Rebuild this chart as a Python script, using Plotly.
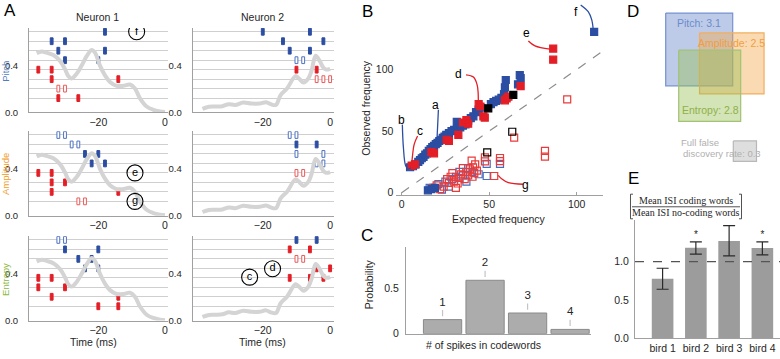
import plotly.graph_objects as go

W, H = 780, 359
FONT = "Liberation Sans"
TXT = "#262626"
AX = "#a0a0a0"
BLUE = "#2b4ea2"
RED = "#e41e26"

def fx(p):
    return p / W

def fy(p):
    return 1 - p / H

# ---------------- Panel A data ----------------
curve1_t = [-38.5, -37, -35.5, -33.5, -31.5, -30, -29, -28, -26.5, -25, -23.5, -22, -21, -19.5,
            -18, -16.5, -14.5, -12.5, -10.5, -9, -7.5, -5.5, -3.5, -1.5, 0]
curve1_y = [0.506, 0.52, 0.51, 0.49, 0.44, 0.37, 0.31, 0.29, 0.33, 0.40, 0.48, 0.534, 0.51, 0.40,
            0.316, 0.26, 0.227, 0.227, 0.238, 0.204, 0.12, 0.05, 0.022, 0.008, 0.003]
curve2_t = [-37.9, -36, -34, -32, -30.1, -28.2, -25.8, -23.4, -21, -19, -17.6, -16.1, -14.7, -12.8,
            -10.3, -9.4, -7.9, -6.5, -5.5, -4.3, -3.1, -2.1, -1.2, 0]
curve2_y = [0.031, 0.048, 0.05, 0.053, 0.07, 0.064, 0.084, 0.075, 0.075, 0.087, 0.07, 0.064, 0.148, 0.204,
            0.31, 0.294, 0.255, 0.288, 0.358, 0.484, 0.44, 0.386, 0.366, 0.372]

# raster rows (row 1 = bottom ... row 8 = top)
row_y = [0.122, 0.203, 0.284, 0.365, 0.446, 0.527, 0.608, 0.689]

# spike words: (time ms, row, kind)  kind: bf/bo = blue filled/open, rf/ro = red filled/open
n1_pitch = [(-18, 8, 'bf'), (-34, 7, 'bf'), (-30, 7, 'bf'), (-32, 6, 'bf'), (-18, 6, 'bf'), (-30, 5, 'bf'),
            (-20, 5, 'bf'), (-38, 4, 'rf'), (-34, 4, 'rf'), (-34, 3, 'rf'), (-14, 3, 'rf'), (-32, 2, 'ro'),
            (-30, 2, 'ro'), (-32, 1, 'rf'), (-26, 1, 'rf')]
n2_pitch = [(-20, 8, 'bf'), (-6, 8, 'bf'), (-14, 7, 'bf'), (-2, 7, 'bf'), (-12, 6, 'bf'), (-6, 6, 'bf'),
            (-10, 5, 'bo'), (-8, 5, 'bo'), (-10, 4, 'rf'), (-4, 4, 'rf'), (-4, 3, 'ro'), (-2, 3, 'ro'),
            (0, 3, 'ro')]
n1_amp = [(-32, 8, 'bo'), (-30, 8, 'bo'), (-28, 7, 'bo'), (-26, 7, 'bo'), (-24, 6, 'bf'), (-20, 6, 'bf'),
          (-22, 5, 'bf'), (-18, 5, 'bf'), (-38, 4, 'rf'), (-34, 4, 'rf'), (-34, 3, 'rf'), (-30, 3, 'rf'),
          (-34, 2, 'rf'), (-14, 2, 'rf'), (-26, 1, 'ro'), (-24, 1, 'ro')]
n2_amp = [(-12, 8, 'bo'), (-10, 8, 'bo'), (-10, 7, 'bf'), (-4, 7, 'bf'), (-10, 6, 'bo'), (-2, 6, 'bo'),
          (-4, 5, 'bo'), (-2, 5, 'bo'), (-10, 4, 'ro'), (-8, 4, 'ro')]
n1_ent = [(-32, 8, 'bo'), (-30, 8, 'bo'), (-30, 7, 'bf'), (-20, 7, 'bf'), (-26, 6, 'bf'), (-22, 6, 'bf'),
          (-24, 5, 'bf'), (-20, 5, 'bf'), (-38, 4, 'rf'), (-34, 4, 'rf'), (-38, 3, 'rf'), (-30, 3, 'rf'),
          (-34, 2, 'rf'), (-14, 2, 'rf'), (-20, 1, 'rf'), (-14, 1, 'rf')]
n2_ent = [(-10, 8, 'bf'), (-4, 8, 'bf'), (-12, 7, 'rf'), (-6, 7, 'rf'), (-10, 6, 'ro'), (-8, 6, 'ro'),
          (-4, 5, 'rf'), (0, 5, 'rf'), (-12, 4, 'rf'), (-6, 4, 'rf'), (-2, 4, 'rf')]

# circled labels per A subplot: (letter, time, y)
a_circles = {1: [("f", -8.5, 0.689)], 3: [("e", -9, 0.365), ("g", -9, 0.122)],
             6: [("d", -17.1, 0.443), ("c", -23.9, 0.371)]}

features = ["Pitch", "Amplitude", "Entropy"]
feature_colors = ["#4f7cc2", "#f0a02c", "#8fb83e"]

# ---------------- Panel B data ----------------
bf_x = [4.8, 6.5, 8, 9.5, 10.5, 11.5, 12.5, 13.5, 14.5, 15.5, 16.5, 17.5, 18.5, 19.5, 20.5, 21.5, 22.5,
        23.5, 24.5, 25.5, 27, 28.5, 30, 31.5, 32, 33.5, 35, 36.5, 38, 39.5, 41, 42.5, 44, 45.5, 51, 52.5,
        54, 55.5, 57, 58.5, 59, 59.5, 66.5, 67.5, 68, 15, 17, 19, 110]
bf_y = [20.7, 21.5, 23, 25, 26.5, 28, 29, 31, 32, 34, 35.5, 37, 38, 39.5, 40.5, 42, 43, 44.5, 45.5, 47,
        48.5, 50, 51, 57.5, 52, 53, 54.5, 55.5, 58.5, 60.5, 62, 65.5, 67.5, 69, 72, 73.5, 74.5, 75.5, 77,
        80, 85.5, 91.5, 88, 95.5, 93, 2, 3, 4, 130.5]
rf_x = [5.7, 7.6, 17, 18.5, 25.7, 27, 32.4, 35, 37, 38, 44, 45, 46.7, 47.5, 59, 60, 61, 68, 86.6, 86.6]
rf_y = [22, 23, 33, 32, 43, 42, 47, 57, 59, 56, 72, 70, 62, 61, 75, 76.5, 78, 86.5, 117, 108]
kf_x = [49.5, 63.8]
kf_y = [68.5, 79.5]
ro_x = [64.3, 47.6, 47.6, 56.2, 56.2, 52.9, 81.9, 81.9, 94.6, 40.8, 40, 18, 20, 22, 24, 26, 27, 28, 30,
        31, 32, 33, 34, 36, 37, 38, 39, 40.5, 41.5, 42, 43, 29, 35]
ro_y = [44.7, 28.7, 25.5, 28.2, 25.7, 13.6, 34, 29.3, 75.8, 20.7, 26, 4, 6, 3, 5, 11, 8, 13, 9, 4, 7.5,
        12, 15, 11, 17, 14, 19, 13, 16, 23, 18, 16, 20]
bo_x = [48.6, 56.2, 48.6, 16, 21, 23, 25, 29, 31, 33, 35, 37, 38, 40, 27, 44]
bo_y = [23.4, 23.4, 13.6, 4, 7, 2.5, 9, 11, 13, 17, 14, 9, 20, 17, 5, 15]
ko_x = [63.2, 48.9]
ko_y = [49.5, 32.7]

b_letters = [("a", 19.6, 71, BLUE), ("b", 0.0, 59.3, BLUE), ("c", 10.5, 50.3, RED), ("d", 32.2, 96.6, RED),
             ("e", 71.4, 129.9, RED), ("f", 99.6, 146.8, BLUE), ("g", 70.5, 6.4, RED)]
b_curves = [
    ([21, 20.6, 20], [67.3, 55.3, 38], BLUE),
    ([0.4, 1, 2.3, 3.8, 5.3], [55.3, 36.7, 22, 19.4, 20.2], BLUE),
    ([9.1, 7.2, 6.1, 5.7], [46, 39.4, 28.7, 22], RED),
    ([36.8, 41, 43.2, 43.8], [95.7, 93.9, 87.2, 71.8], RED),
    ([72.4, 76.2, 84.7], [123.2, 119.2, 116.5], RED),
    ([102.3, 106.6, 108.6, 109.5], [152.4, 147, 140.5, 132], BLUE),
    ([69.5, 61, 57.1, 55.2], [6.9, 8.2, 11.4, 14.1], RED),
]

# ---------------- Panel C data ----------------
c_spikes = [1, 2, 3, 4]
c_prob = [0.153, 0.582, 0.225, 0.046]

# ---------------- Panel D data ----------------
d_values = [3.1, 2.5, 2.8]
d_fdr = 0.3

# ---------------- Panel E data ----------------
e_birds = ["bird 1", "bird 2", "bird 3", "bird 4"]
e_ratio = [0.778, 1.183, 1.27, 1.18]
e_err_up = [0.136, 0.077, 0.20, 0.08]
e_err_dn = [0.138, 0.083, 0.193, 0.09]
e_sig = [False, True, False, True]

fig = go.Figure()
layout = {}
annotations = []
shapes = []

def ann(text, x, y, xref='paper', yref='paper', size=10.5, color=TXT, family=FONT, angle=0,
        xanchor='center', yanchor='middle', pad=1):
    if xref == 'paper':
        x = fx(x)
    if yref == 'paper':
        y = fy(y)
    annotations.append(dict(text=text, x=x, y=y, xref=xref, yref=yref, showarrow=False, textangle=angle,
                            xanchor=xanchor, yanchor=yanchor, borderpad=pad,
                            font=dict(size=size, color=color, family=family)))

def axname(k, kind):
    return kind + ("" if k == 1 else str(k))

# ---------------- Panel A ----------------
xdom = [(29, 168.3), (192.7, 333.5)]
ydom = [(28.6, 114.3), (133.6, 219.3), (240.3, 326)]
rasters = [n1_pitch, n2_pitch, n1_amp, n2_amp, n1_ent, n2_ent]
styles = {'bf': (BLUE, BLUE), 'bo': ("white", "#4f72c0"), 'rf': (RED, RED), 'ro': ("white", "#ec5a5a")}
MARK_H = 0.058
for i in range(6):
    k = i + 1
    r, c = divmod(i, 2)
    xr, yr = axname(k, 'x'), axname(k, 'y')
    layout[axname(k, 'xaxis')] = dict(
        domain=[fx(xdom[c][0]), fx(xdom[c][1])], range=[-40.8, 1], tickvals=[-20, 0],
        showline=True, linecolor=AX, linewidth=1, showgrid=False, zeroline=False, ticks='',
        tickfont=dict(size=10.5, color=TXT), anchor=yr, fixedrange=True)
    layout[axname(k, 'yaxis')] = dict(
        domain=[fy(ydom[r][1]), fy(ydom[r][0])], range=[0, 0.72], tickvals=[0, 0.4], ticktext=['0.0', '0.4'],
        showline=True, linecolor=AX, linewidth=1, showgrid=False, zeroline=False, ticks='',
        ticklabelstandoff=8, tickfont=dict(size=9.5, color=TXT), anchor=xr,
        minor=dict(tickmode='array', tickvals=row_y, showgrid=True, gridcolor='#cfcfcf', gridwidth=1, ticks=''))
    ct, cy = (curve1_t, curve1_y) if c == 0 else (curve2_t, curve2_y)
    fig.add_trace(go.Scatter(x=ct, y=cy, mode='lines', line=dict(color='#d4d4d4', width=4, shape='spline'),
                             xaxis=xr, yaxis=yr))
    for kind in ['bf', 'bo', 'rf', 'ro']:
        pts = [p for p in rasters[i] if p[2] == kind]
        if not pts:
            continue
        fill, edge = styles[kind]
        fig.add_trace(go.Bar(x=[p[0] for p in pts], y=[MARK_H] * len(pts),
                             base=[row_y[p[1] - 1] - MARK_H / 2 for p in pts], width=0.85,
                             marker=dict(color=fill, line=dict(color=edge, width=1)),
                             xaxis=xr, yaxis=yr))
    for lab, t, yv in a_circles.get(k, []):
        fig.add_trace(go.Scatter(x=[t], y=[yv], mode='markers+text', text=[lab], textposition='middle center',
                                 textfont=dict(size=11, color='black', family=FONT),
                                 marker=dict(symbol='circle-open', size=16, color='black', line=dict(width=1.1)),
                                 xaxis=xr, yaxis=yr))
    if r == 0:
        ann("Neuron %d" % (c + 1), (xdom[c][0] + xdom[c][1]) / 2 - 1, 17)
    if c == 0:
        ann(features[r], 5.5, (ydom[r][0] + ydom[r][1]) / 2 + 1, size=9.5, color=feature_colors[r], angle=-90,
            pad=0)
for cx in [93, 262]:
    ann("Time (ms)", cx, 348)

# ---------------- Panel B ----------------
layout['xaxis7'] = dict(domain=[fx(396.4), fx(602.9)], range=[-3, 115], tickvals=[0, 50, 100], showline=True,
                        linecolor=AX, showgrid=False, zeroline=False, ticks='inside', ticklen=3, tickcolor=AX,
                        tickfont=dict(size=10.5, color=TXT), anchor='y7')
layout['yaxis7'] = dict(domain=[fy(197.9), fy(1.8)], range=[-1.5, 155], tickvals=[0, 50, 100], showline=False,
                        showgrid=False, zeroline=False, ticks='', ticklabelstandoff=2,
                        tickfont=dict(size=10.5, color=TXT), anchor='x7')
fig.add_trace(go.Scatter(x=[0, 115], y=[0, 115], mode='lines', line=dict(color='#8c8c8c', width=1.2, dash='dash'),
                         xaxis='x7', yaxis='y7'))
for xs, ys, col, sym in [(bo_x, bo_y, '#4a6cbc', 'square-open'), (ro_x, ro_y, '#ea3a3a', 'square-open'),
                         (ko_x, ko_y, 'black', 'square-open'), (bf_x, bf_y, BLUE, 'square'),
                         (rf_x, rf_y, RED, 'square'), (kf_x, kf_y, 'black', 'square')]:
    fig.add_trace(go.Scatter(x=xs, y=ys, mode='markers', xaxis='x7', yaxis='y7', cliponaxis=False,
                             marker=dict(symbol=sym, size=7, color=col, line=dict(width=1.2, color=col))))
for xs, ys, col in b_curves:
    fig.add_trace(go.Scatter(x=xs, y=ys, mode='lines', line=dict(color=col, width=1.3, shape='spline'),
                             xaxis='x7', yaxis='y7'))
for lab, xv, yv, col in b_letters:
    ann(lab, xv, yv, xref='x7', yref='y7', size=12, color='black')
ann("Expected frequency", 499, 222.5)
ann("Observed frequency", 366.5, 110, angle=-90)

# ---------------- Panel C ----------------
layout['xaxis8'] = dict(domain=[fx(406), fx(590.5)], range=[0.14, 4.48], showticklabels=False, showline=True,
                        linecolor=AX, showgrid=False, zeroline=False, ticks='', anchor='y8')
layout['yaxis8'] = dict(domain=[fy(339.3), fy(251.7)], range=[0, 0.94], tickvals=[0, 0.5], ticktext=['0', '0.5'],
                        showline=True, linecolor=AX, showgrid=False, zeroline=False, ticks='', ticklabelstandoff=4,
                        tickfont=dict(size=10.5, color=TXT), anchor='x8')
fig.add_trace(go.Bar(x=c_spikes, y=c_prob, width=0.9, marker=dict(color='#acacac', line=dict(color='#8a8a8a', width=1)),
                     xaxis='x8', yaxis='y8'))
lx, ly = [], []
for s, p in zip(c_spikes, c_prob):
    lx += [s, s, None]
    ly += [p + 0.036, p + 0.105, None]
fig.add_trace(go.Scatter(x=lx, y=ly, mode='lines', line=dict(color='#c4c4c4', width=1.2), xaxis='x8', yaxis='y8'))
fig.add_trace(go.Scatter(x=c_spikes, y=[p + 0.185 for p in c_prob], mode='text', text=[str(s) for s in c_spikes],
                         textfont=dict(size=11.5, color=TXT, family=FONT), xaxis='x8', yaxis='y8'))
ann("# of spikes in codewords", 483, 350.5)
ann("Probability", 369, 289, angle=-90)

# ---------------- Panel D ----------------
layout['xaxis9'] = dict(domain=[fx(640), 1], range=[640, 780], visible=False, anchor='y9')
layout['yaxis9'] = dict(domain=[fy(175), 1], range=[175, 0], visible=False, anchor='x9')
AREA = 1600.0
d_centers = [(699.2, 50.3), (731.8, 64.5), (709.7, 87.2)]
d_aspect = [0.905, 1.04, 0.857]
d_fill = ['rgba(100,130,200,0.42)', 'rgba(242,168,72,0.42)', 'rgba(150,190,80,0.42)']
d_edge = ['#7592d0', '#f2ae5c', '#a2c274']
d_txt = ['#6a8ccc', '#f0a040', '#8fb04a']
for v, (cx, cy), ar, fc, ec, tc, name in zip(d_values, d_centers, d_aspect, d_fill, d_edge, d_txt, features):
    w = (v * AREA * ar) ** 0.5
    h = (v * AREA / ar) ** 0.5
    fig.add_trace(go.Scatter(x=[cx - w / 2, cx + w / 2, cx + w / 2, cx - w / 2, cx - w / 2],
                             y=[cy - h / 2, cy - h / 2, cy + h / 2, cy + h / 2, cy - h / 2],
                             mode='lines', fill='toself', fillcolor=fc, line=dict(color=ec, width=1.2),
                             xaxis='x9', yaxis='y9'))
    ty = cy + h / 2 - 11 if name == "Entropy" else cy - h / 2 + 10.5
    tx = cx + 1 if name == "Entropy" else cx
    ann("%s: %.1f" % (name, v), tx, ty, xref='x9', yref='y9', color=tc)
fcx, fcy, far = 744.9, 153.7, 1.12
fw = (d_fdr * AREA * far) ** 0.5
fh = (d_fdr * AREA / far) ** 0.5
fig.add_trace(go.Scatter(x=[fcx - fw / 2, fcx + fw / 2, fcx + fw / 2, fcx - fw / 2, fcx - fw / 2],
                         y=[fcy - fh / 2, fcy - fh / 2, fcy + fh / 2, fcy + fh / 2, fcy - fh / 2],
                         mode='lines', fill='toself', fillcolor='rgba(200,200,200,0.6)',
                         line=dict(color='#b8b8b8', width=1.2), xaxis='x9', yaxis='y9'))
ann("Full false", 679, 144.5, xref='x9', yref='y9', size=9.5, color='#b0b0b0', xanchor='left')
ann("discovery rate: %.1f" % d_fdr, 681, 156.5, xref='x9', yref='y9', size=9.5, color='#b0b0b0', xanchor='left')

# ---------------- Panel E ----------------
layout['xaxis10'] = dict(domain=[fx(635), 1], range=[-0.83, 3.53], tickvals=[0, 1, 2, 3], ticktext=e_birds,
                         showline=True, linecolor=AX, showgrid=False, zeroline=False, ticks='',
                         tickfont=dict(size=10.5, color=TXT), anchor='y10')
layout['yaxis10'] = dict(domain=[fy(344), fy(223.3)], range=[0, 1.55], tickvals=[0, 0.5, 1.0],
                         ticktext=['0.0', '0.5', '1.0'], showline=True, linecolor=AX, showgrid=False,
                         zeroline=False, ticks='', ticklabelstandoff=3, tickfont=dict(size=10.5, color=TXT),
                         anchor='x10')
fig.add_trace(go.Bar(x=[0, 1, 2, 3], y=e_ratio, width=0.65, marker=dict(color='#9c9c9c', line=dict(width=0)),
                     error_y=dict(type='data', array=e_err_up, arrayminus=e_err_dn, color='#2a2a2a',
                                  thickness=1.2, width=6), xaxis='x10', yaxis='y10'))
sx = [i for i, s in enumerate(e_sig) if s]
fig.add_trace(go.Scatter(x=sx, y=[e_ratio[i] + e_err_up[i] + 0.08 for i in sx], mode='text', text=['*'] * len(sx),
                         textfont=dict(size=10, color='#262626', family=FONT), xaxis='x10', yaxis='y10'))
shapes.append(dict(type='line', xref='x10 domain', yref='y10', x0=0, x1=1, y0=1, y1=1,
                   line=dict(color='#555555', width=1.2, dash='dash')))
SERIF = "Liberation Serif"
ann("Mean ISI coding words", 686, 204, size=10, family=SERIF)
ann("Mean ISI no-coding words", 686, 216.5, size=10, family=SERIF)
shapes.append(dict(type='line', xref='paper', yref='paper', x0=fx(632), x1=fx(740), y0=fy(210.3), y1=fy(210.3),
                   line=dict(color=TXT, width=0.8)))
for bx, d in [(630.5, 1), (741.5, -1)]:
    shapes.append(dict(type='path', xref='paper', yref='paper',
                       path="M %f %f L %f %f L %f %f L %f %f" % (fx(bx + 2.5 * d), fy(197.5), fx(bx), fy(197.5),
                                                                fx(bx), fy(222.5), fx(bx + 2.5 * d), fy(222.5)),
                       line=dict(color=TXT, width=0.8)))

# ---------------- panel letters ----------------
for lab, xp, yp in [("A", 10, 11), ("B", 367, 12), ("C", 367, 240), ("D", 633, 12), ("E", 633, 182)]:
    ann(lab, xp, yp, size=17, color='black')

fig.update_layout(width=W, height=H, margin=dict(l=0, r=0, t=0, b=0), paper_bgcolor='white',
                  plot_bgcolor='white', showlegend=False, barmode='overlay', hovermode=False,
                  font=dict(family=FONT, color=TXT), annotations=annotations, shapes=shapes, **layout)
fig.write_html("out.html", config={'displayModeBar': False},
               post_script="document.body.style.margin='0';document.body.style.overflow='hidden';")
